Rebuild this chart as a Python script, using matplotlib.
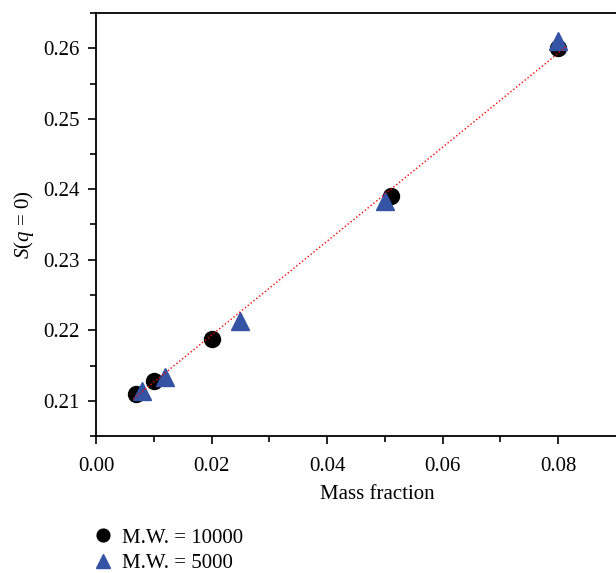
import numpy as np
import matplotlib
matplotlib.use("Agg")
import matplotlib.pyplot as plt

plt.rcParams['font.family'] = ['Liberation Serif', 'DejaVu Serif']
plt.rcParams['mathtext.fontset'] = 'custom'
plt.rcParams['mathtext.rm'] = 'Liberation Serif'
plt.rcParams['mathtext.it'] = 'Liberation Serif:italic'

# M.W. = 10000 (circles)
x_10000 = [0.007, 0.010, 0.020, 0.051, 0.080]
y_10000 = [0.2110, 0.2128, 0.2188, 0.2390, 0.2600]

# M.W. = 5000 (triangles)
x_5000 = [0.008, 0.012, 0.025, 0.050, 0.080]
y_5000 = [0.2114, 0.2133, 0.2213, 0.2384, 0.2610]

# dotted fit line endpoints
fit_x = [0.0065, 0.0815]
fit_y = [0.2103, 0.2603]

fig = plt.figure(figsize=(6.16, 5.73), dpi=100)
ax = fig.add_axes([96/616, 1 - 436/573, 1 - 96/616, (436 - 13)/573])

ax.plot(x_10000, y_10000, 'o', color='black', ms=11.5, label='M.W. = 10000', zorder=3)
ax.plot(x_5000, y_5000, '^', color='#3453a4', ms=13, label='M.W. = 5000', zorder=4)
ax.plot(fit_x, fit_y, ':', color='red', lw=1.0, zorder=5)

ax.set_xlim(0, 0.09)
ax.set_ylim(0.205, 0.265)
ax.set_xticks([0.00, 0.02, 0.04, 0.06, 0.08])
ax.set_xticks(np.arange(0.01, 0.09, 0.02), minor=True)
ax.set_yticks([0.21, 0.22, 0.23, 0.24, 0.25, 0.26])
ax.set_yticks(np.arange(0.205, 0.265, 0.01), minor=True)
ax.xaxis.set_major_formatter(matplotlib.ticker.FormatStrFormatter('%.2f'))
ax.yaxis.set_major_formatter(matplotlib.ticker.FormatStrFormatter('%.2f'))
ax.tick_params(which='both', direction='out', width=1.2, labelsize=15, colors='black')
ax.tick_params(which='major', length=6)
ax.tick_params(which='minor', length=4)
ax.tick_params(axis='x', which='major', pad=9)
ax.tick_params(axis='y', which='major', pad=6)
for s in ['left', 'bottom', 'top']:
    ax.spines[s].set_linewidth(1.3)
ax.spines['right'].set_visible(False)

ax.set_xlabel('Mass fraction', fontsize=15)
ax.xaxis.set_label_coords((377 - 96) / 520, -0.116)
ax.set_ylabel(r'$S$($q$ = 0)', fontsize=15)
ax.yaxis.set_label_coords(-0.115, 0.5)

fig.legend(loc='upper left', bbox_to_anchor=(0.133, 0.093), frameon=False,
           fontsize=15, handletextpad=0.3, labelspacing=0.3, borderaxespad=0,
           handlelength=1.2, markerscale=0.8)

fig.savefig('out.png', dpi=100)
